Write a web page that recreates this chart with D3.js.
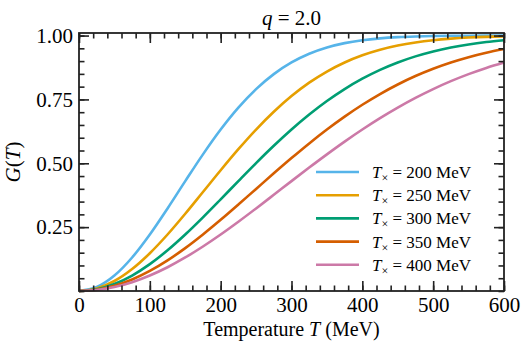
<!DOCTYPE html>
<html>
<head>
  <meta charset='utf-8'>
  <title>G(T), q = 2.0</title>
  <script src="https://cdnjs.cloudflare.com/ajax/libs/d3/7.8.5/d3.min.js"></script>
  <style>
    body { margin: 0; background: white; }
    svg text { font-family: 'Liberation Serif', 'Times New Roman', Times, 'DejaVu Serif', serif; fill: black; }
    .axis line { stroke: #222; }
    .axis text { font-size: 21px; }
  </style>
</head>
<body>
  <svg width="529" height="350" id="chart"></svg>
  <script>
    // temperature grid (MeV)
    const temps = [0, 25, 50, 75, 100, 125, 150, 175, 200, 225, 250, 275, 300,
                   325, 350, 375, 400, 425, 450, 475, 500, 525, 550, 575, 600];

    const crossovers = [200, 250, 300, 350, 400];

    const g200 = [0, 0.0155, 0.0606, 0.1312, 0.2212, 0.3233, 0.4302, 0.5349, 0.6321, 0.7179, 0.7904, 0.8490, 0.8946,
                  0.9287, 0.9532, 0.9703, 0.9817, 0.9891, 0.9937, 0.9964, 0.9981, 0.9990, 0.9995, 0.9997, 0.9999];
    const g250 = [0, 0.0100, 0.0392, 0.0861, 0.1479, 0.2212, 0.3023, 0.3874, 0.4727, 0.5551, 0.6321, 0.7018, 0.7631,
                  0.8155, 0.8591, 0.8946, 0.9227, 0.9444, 0.9608, 0.9729, 0.9817, 0.9878, 0.9921, 0.9950, 0.9969];
    const g300 = [0, 0.0069, 0.0274, 0.0606, 0.1052, 0.1594, 0.2212, 0.2884, 0.3588, 0.4302, 0.5007, 0.5684, 0.6321,
                  0.6907, 0.7436, 0.7904, 0.8310, 0.8656, 0.8946, 0.9185, 0.9378, 0.9532, 0.9653, 0.9746, 0.9817];
    const g350 = [0, 0.0051, 0.0202, 0.0449, 0.0784, 0.1198, 0.1678, 0.2212, 0.2786, 0.3385, 0.3996, 0.4606, 0.5203,
                  0.5778, 0.6321, 0.6827, 0.7291, 0.7711, 0.8085, 0.8415, 0.8701, 0.8946, 0.9154, 0.9327, 0.9471];
    const g400 = [0, 0.0039, 0.0155, 0.0345, 0.0606, 0.0930, 0.1312, 0.1742, 0.2212, 0.2712, 0.3233, 0.3766, 0.4302,
                  0.4832, 0.5349, 0.5848, 0.6321, 0.6766, 0.7179, 0.7559, 0.7904, 0.8214, 0.8490, 0.8734, 0.8946];

    const colors = ['#56B4E9', '#E69F00', '#009E73', '#D55E00', '#CC79A7'];

    const xTicks = [0, 100, 200, 300, 400, 500, 600];
    const yTicks = [0.25, 0.50, 0.75, 1.00];

    const series = [g200, g250, g300, g350, g400].map((vals, i) => ({
      tx: crossovers[i],
      color: colors[i],
      points: temps.map((t, j) => [t, vals[j]])
    }));

    const margin = { left: 79, right: 25, top: 33, bottom: 59 };
    const width = 529, height = 350;

    const svg = d3.select('#chart');

    const x = d3.scaleLinear().domain([0, 600]).range([margin.left, width - margin.right]);
    const y = d3.scaleLinear().domain([0, 1.01]).range([height - margin.bottom, margin.top]);

    const plot = svg.append('g');

    const line = d3.line()
      .x(d => x(d[0]))
      .y(d => y(d[1]))
      .curve(d3.curveMonotoneX);

    plot.selectAll('path.curve')
      .data(series)
      .join('path')
      .attr('class', 'curve')
      .attr('fill', 'none')
      .attr('stroke', d => d.color)
      .attr('stroke-width', 2.6)
      .attr('d', d => line(d.points));

    // axes, ticks pointing in on all four sides
    const xMinor = d3.range(0, 601, 20);
    const yMinor = d3.range(0, 1.001, 0.05);
    const majorLen = 10, minorLen = 5.5;

    function styleAxis(sel) {
      sel.attr('class', 'axis').attr('font-family', null).attr('font-size', null);
      sel.select('.domain').remove();
      sel.selectAll('line').attr('stroke-width', 1.6);
    }

    svg.append('g')
      .attr('transform', `translate(0,${y(0)})`)
      .call(d3.axisBottom(x).tickValues(xMinor).tickSize(-minorLen).tickFormat(''))
      .call(styleAxis);
    svg.append('g')
      .attr('transform', `translate(0,${y(0)})`)
      .call(d3.axisBottom(x).tickValues(xTicks).tickSize(-majorLen).tickPadding(6).tickFormat(d3.format('d')))
      .call(styleAxis);
    svg.append('g')
      .attr('transform', `translate(0,${margin.top})`)
      .call(d3.axisTop(x).tickValues(xMinor).tickSize(-minorLen).tickFormat(''))
      .call(styleAxis);
    svg.append('g')
      .attr('transform', `translate(0,${margin.top})`)
      .call(d3.axisTop(x).tickValues(xTicks).tickSize(-majorLen).tickFormat(''))
      .call(styleAxis);

    svg.append('g')
      .attr('transform', `translate(${x(0)},0)`)
      .call(d3.axisLeft(y).tickValues(yMinor).tickSize(-minorLen).tickFormat(''))
      .call(styleAxis);
    svg.append('g')
      .attr('transform', `translate(${x(0)},0)`)
      .call(d3.axisLeft(y).tickValues(yTicks).tickSize(-majorLen).tickPadding(6).tickFormat(d3.format('.2f')))
      .call(styleAxis);
    svg.append('g')
      .attr('transform', `translate(${x(600)},0)`)
      .call(d3.axisRight(y).tickValues(yMinor).tickSize(-minorLen).tickFormat(''))
      .call(styleAxis);
    svg.append('g')
      .attr('transform', `translate(${x(600)},0)`)
      .call(d3.axisRight(y).tickValues(yTicks).tickSize(-majorLen).tickFormat(''))
      .call(styleAxis);

    svg.append('rect')
      .attr('x', x(0)).attr('y', margin.top)
      .attr('width', x(600) - x(0)).attr('height', y(0) - margin.top)
      .attr('fill', 'none').attr('stroke', '#222').attr('stroke-width', 1.8);

    // title
    const title = svg.append('text')
      .attr('x', (x(0) + x(600)) / 2).attr('y', 25)
      .attr('text-anchor', 'middle').style('font-size', '21px');
    title.append('tspan').style('font-style', 'italic').text('q');
    title.append('tspan').text(' = 2.0');

    // axis labels
    const xl = svg.append('text')
      .attr('x', (x(0) + x(600)) / 2).attr('y', 336)
      .attr('text-anchor', 'middle').style('font-size', '20px');
    xl.append('tspan').text('Temperature ');
    xl.append('tspan').style('font-style', 'italic').text('T');
    xl.append('tspan').text(' (MeV)');

    const yl = svg.append('text')
      .attr('transform', `translate(20,${(y(0) + y(1.01)) / 2}) rotate(-90)`)
      .attr('text-anchor', 'middle').style('font-size', '21px');
    yl.append('tspan').style('font-style', 'italic').text('G');
    yl.append('tspan').text('(');
    yl.append('tspan').style('font-style', 'italic').text('T');
    yl.append('tspan').text(')');

    // legend
    const legend = svg.append('g').attr('transform', 'translate(316,172)');
    const item = legend.selectAll('g')
      .data(series)
      .join('g')
      .attr('transform', (d, i) => `translate(0,${i * 23.2})`);
    item.append('line')
      .attr('x1', 0).attr('x2', 43)
      .attr('stroke', d => d.color).attr('stroke-width', 2.6);
    const lt = item.append('text')
      .attr('x', 56).attr('y', 6)
      .style('font-size', '17px');
    lt.append('tspan').style('font-style', 'italic').text('T');
    lt.append('tspan').attr('dy', 4).style('font-size', '12px').text('×');
    lt.append('tspan').attr('dy', -4).text(d => ` = ${d.tx} MeV`);
  </script>
</body>
</html>
